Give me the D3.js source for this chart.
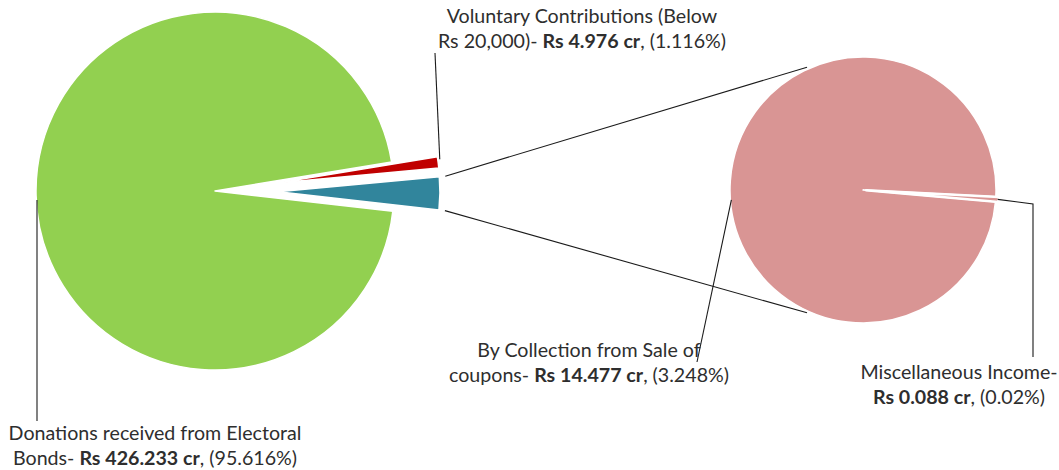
<!DOCTYPE html>
<html>
<head>
<meta charset="utf-8">
<script src="https://cdn.jsdelivr.net/npm/d3@7/dist/d3.min.js"></script>
<style>
  html, body { margin: 0; padding: 0; background: #fff; }
  svg { display: block; }
  text { font-family: Lato, "Open Sans", sans-serif; fill: #2e2e2e; }
</style>
</head>
<body>
<svg id="chart" width="1059" height="470"></svg>
<script>
// ---- Data ----
const categories = [
  "Donations received from Electoral Bonds",
  "Voluntary Contributions (Below Rs 20,000)",
  "By Collection from Sale of coupons",
  "Miscellaneous Income"
];
const valuesCr = [426.233, 4.976, 14.477, 0.088];
const percentLabels = ["95.616%", "1.116%", "3.248%", "0.02%"];
const firstLines = [
  "Donations received from Electoral",
  "Voluntary Contributions (Below",
  "By Collection from Sale of",
  "Miscellaneous Income-"
];
// main pie: first two categories + "Other" (the last two combined)
const mainIdx = [1, 2, 0];        // drawing order: voluntary, other, electoral
const secondIdx = [2, 3];

// ---- Styles / layout ----
const colors = ["#92D050", "#C00000", "#31859C", "#D99594"];
const svg = d3.select("#chart");
const mainC = [215, 191], mainR = 179, explodeR = 162, explodeOff = 63;
const secC = [863, 190], secR = 133;
const deg = Math.PI / 180;

const otherValue = valuesCr[2] + valuesCr[3];
const mainData = mainIdx.map(i => ({ i, v: i === 2 ? otherValue : valuesCr[i] }));

const pieMain = d3.pie().sort(null).value(d => d.v)
  .startAngle(80.7 * deg).endAngle(80.7 * deg + 2 * Math.PI);
const mainArcs = pieMain(mainData);

const gMain = svg.append("g");
mainArcs.forEach(a => {
  const exploded = a.data.i !== 0;
  const mid = (a.startAngle + a.endAngle) / 2;
  const off = exploded ? explodeOff : 0;
  const cx = mainC[0] + off * Math.sin(mid), cy = mainC[1] - off * Math.cos(mid);
  a.cx = cx; a.cy = cy; a.r = exploded ? explodeR : mainR;
  const arc = d3.arc().innerRadius(0).outerRadius(a.r);
  gMain.append("path")
    .attr("transform", `translate(${cx},${cy})`)
    .attr("d", arc(a))
    .attr("fill", colors[a.data.i])
    .attr("stroke", "#fff").attr("stroke-width", 1.5).attr("stroke-linejoin", "round");
});

// secondary pie
const secData = secondIdx.map(i => ({ i, v: valuesCr[i] }));
const miscSpan = valuesCr[3] / otherValue * 2 * Math.PI;
const miscMid = 94 * deg;
const pieSec = d3.pie().sort(null).value(d => d.v)
  .startAngle(miscMid + miscSpan / 2).endAngle(miscMid + miscSpan / 2 + 2 * Math.PI);
const secArcs = pieSec(secData);
const gSec = svg.append("g");
secArcs.forEach(a => {
  const isMisc = a.data.i === 3;
  const mid = (a.startAngle + a.endAngle) / 2;
  const off = isMisc ? 3 : 0;
  const cx = secC[0] + off * Math.sin(mid), cy = secC[1] - off * Math.cos(mid);
  const arc = d3.arc().innerRadius(0).outerRadius(secR);
  gSec.append("path")
    .attr("transform", `translate(${cx},${cy})`)
    .attr("d", arc(a))
    .attr("fill", colors[3])
    .attr("stroke", "#fff").attr("stroke-width", isMisc ? 2.4 : 1.5).attr("stroke-linejoin", "round");
});

// ---- connector lines (other slice -> secondary pie) ----
const other = mainArcs.find(a => a.data.i === 2);
const pt = (cx, cy, r, ang) => [cx + r * Math.sin(ang), cy - r * Math.cos(ang)];
const conTop = pt(other.cx, other.cy, other.r + 6, other.startAngle);
const conBot = pt(other.cx, other.cy, other.r + 6, other.endAngle);
const secTop = pt(secC[0], secC[1], secR + 2, -24.5 * deg);
const secBot = pt(secC[0], secC[1], secR + 2, 180 * deg + 24.5 * deg);
const lineG = svg.append("g").attr("stroke", "#1a1a1a").attr("stroke-width", 1.1).attr("fill", "none");
lineG.append("line").attr("x1", conTop[0]).attr("y1", conTop[1]).attr("x2", secTop[0]).attr("y2", secTop[1]);
lineG.append("line").attr("x1", conBot[0]).attr("y1", conBot[1]).attr("x2", secBot[0]).attr("y2", secBot[1]);

// ---- leader lines ----
const red = mainArcs.find(a => a.data.i === 1);
const redTop = pt(red.cx, red.cy, red.r + 2, red.startAngle + 1 * deg);
const leaders = [
  [[37, 200], [37, 421]],
  [redTop, [435, 53]],
  [pt(secC[0], secC[1], secR - 1, 265.7 * deg), [697, 362]],
  [pt(secC[0], secC[1], secR + 2, miscMid), [1033, 204], [1033, 357]]
];
leaders.forEach(pts => {
  lineG.append("path").attr("d", d3.line()(pts));
});

// ---- labels ----
const labelPos = [[155, 440], [582, 23], [589, 357], [959, 379]];
const lineH = 25;
const gLab = svg.append("g").attr("text-anchor", "middle");

function segments(k) {
  const boldTxt = `Rs ${valuesCr[k]} cr`;
  const full = `${categories[k]}- ${boldTxt}, (${percentLabels[k]})`;
  const bs = full.indexOf(boldTxt), be = bs + boldTxt.length;
  const l1 = firstLines[k].length;
  const lines = [[0, l1], [l1 + 1, full.length]];
  return lines.map(([s, e]) => {
    const segs = [];
    const cuts = [s, Math.max(s, Math.min(e, bs)), Math.max(s, Math.min(e, be)), e];
    for (let j = 0; j < 3; j++) {
      if (cuts[j + 1] > cuts[j]) segs.push({ t: full.slice(cuts[j], cuts[j + 1]), b: j === 1 });
    }
    return segs;
  });
}

let fontSize = 16;
const texts = [];
categories.forEach((c, k) => {
  segments(k).forEach((segs, li) => {
    const t = gLab.append("text")
      .attr("x", labelPos[k][0]).attr("y", labelPos[k][1] + li * lineH)
      .style("font-size", fontSize + "px");
    segs.forEach(s => t.append("tspan").text(s.t).attr("font-weight", s.b ? "bold" : null));
    texts.push({ t, k, li });
  });
});
// fit font size to reference width of the first label line
const refW = 293;
const measured = texts[0].t.node().getComputedTextLength();
fontSize = fontSize * refW / measured;
texts.forEach(o => o.t.style("font-size", fontSize.toFixed(2) + "px"));
</script>
</body>
</html>
